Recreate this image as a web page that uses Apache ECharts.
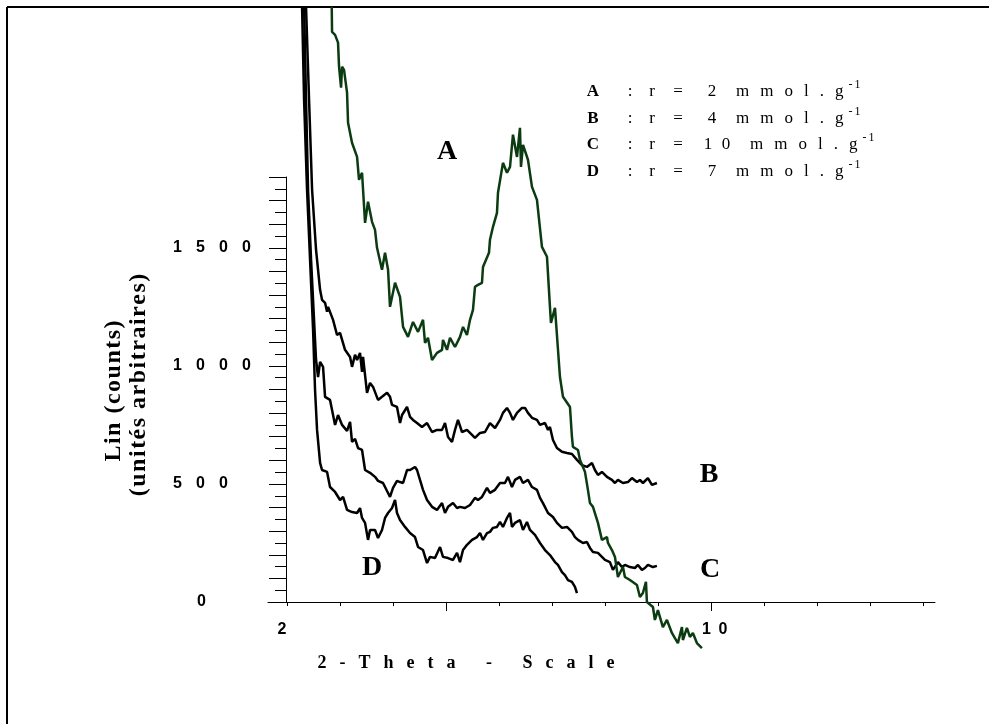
<!DOCTYPE html>
<html><head><meta charset="utf-8">
<script src="https://cdn.jsdelivr.net/npm/echarts@6/dist/echarts.min.js"></script>
<style>html,body{margin:0;padding:0;background:#fff}#c{width:989px;height:724px}</style>
</head><body><div id="c"></div>
<script>
// ---- data (2-theta in degrees, intensity in counts) ----
const curveA = [[2.843,2521],[2.849,2415],[2.906,2402],[2.962,2369],[2.981,2267],[3.019,2178],[3.038,2267],[3.075,2254],[3.132,2157],[3.151,2030],[3.226,1945],[3.321,1885],[3.358,1788],[3.415,1818],[3.472,1606],[3.528,1695],[3.604,1610],[3.660,1576],[3.698,1500],[3.792,1407],[3.849,1479],[3.906,1407],[3.943,1250],[4.038,1352],[4.132,1292],[4.189,1165],[4.283,1123],[4.377,1186],[4.472,1144],[4.566,1195],[4.604,1097],[4.660,1119],[4.736,1025],[4.830,1055],[4.925,1068],[4.943,1110],[5.019,1068],[5.075,1119],[5.170,1080],[5.264,1123],[5.321,1165],[5.396,1131],[5.453,1195],[5.509,1237],[5.547,1335],[5.604,1343],[5.679,1352],[5.698,1419],[5.811,1479],[5.830,1534],[5.887,1589],[5.962,1648],[5.981,1733],[6.075,1860],[6.151,1818],[6.208,1843],[6.264,1979],[6.340,1885],[6.396,2008],[6.415,1843],[6.453,1936],[6.547,1873],[6.623,1758],[6.717,1703],[6.811,1504],[6.906,1462],[6.962,1250],[6.981,1182],[7.057,1246],[7.151,953],[7.208,869],[7.340,826],[7.377,699],[7.396,657],[7.491,644],[7.528,602],[7.585,572],[7.623,551],[7.679,475],[7.717,419],[7.774,403],[7.868,335],[7.943,263],[8.038,275],[8.057,250],[8.132,220],[8.189,191],[8.245,106],[8.340,148],[8.377,106],[8.472,93],[8.604,72],[8.660,21],[8.717,38],[8.774,85],[8.792,0],[8.906,-21],[8.943,-76],[9.000,-34],[9.094,-106],[9.170,-76],[9.264,-131],[9.321,-153],[9.377,-174],[9.453,-106],[9.472,-161],[9.547,-110],[9.604,-148],[9.660,-131],[9.736,-174],[9.830,-195]];
const curveB = [[2.358,2521],[2.415,2127],[2.472,1746],[2.547,1491],[2.623,1322],[2.660,1280],[2.717,1267],[2.755,1229],[2.774,1250],[2.868,1195],[2.943,1131],[3.000,1140],[3.094,1068],[3.189,1038],[3.226,996],[3.283,1047],[3.321,1025],[3.377,1055],[3.415,975],[3.434,1038],[3.509,886],[3.566,928],[3.623,911],[3.717,856],[3.792,869],[3.887,886],[3.943,869],[3.981,835],[4.075,826],[4.132,758],[4.170,792],[4.264,826],[4.321,784],[4.377,771],[4.453,758],[4.547,741],[4.642,758],[4.736,720],[4.830,729],[4.925,729],[4.981,758],[5.038,699],[5.113,678],[5.170,729],[5.226,771],[5.302,720],[5.396,729],[5.491,708],[5.547,695],[5.642,716],[5.736,720],[5.830,758],[5.925,737],[6.019,771],[6.075,801],[6.151,822],[6.208,801],[6.264,771],[6.340,801],[6.434,822],[6.491,822],[6.547,801],[6.623,780],[6.717,771],[6.774,750],[6.868,758],[6.925,729],[6.962,741],[7.019,686],[7.094,652],[7.189,636],[7.283,631],[7.377,627],[7.472,602],[7.566,580],[7.660,572],[7.755,589],[7.811,559],[7.868,538],[7.943,551],[8.038,530],[8.132,517],[8.189,504],[8.245,517],[8.340,504],[8.434,508],[8.509,525],[8.604,508],[8.660,517],[8.717,504],[8.811,525],[8.887,496],[8.981,504]];
const curveC = [[2.321,2521],[2.358,2127],[2.396,1746],[2.453,1449],[2.509,1195],[2.547,1025],[2.585,953],[2.623,1017],[2.679,996],[2.717,869],[2.811,856],[2.868,792],[2.906,750],[2.962,792],[3.038,750],[3.132,725],[3.189,763],[3.226,678],[3.283,691],[3.340,652],[3.415,644],[3.472,559],[3.566,547],[3.660,530],[3.717,513],[3.811,504],[3.887,470],[3.943,445],[4.000,483],[4.075,513],[4.132,508],[4.189,504],[4.264,559],[4.321,559],[4.415,572],[4.453,559],[4.509,517],[4.566,475],[4.642,432],[4.736,403],[4.830,390],[4.925,419],[4.981,377],[5.038,403],[5.132,419],[5.208,398],[5.264,403],[5.358,398],[5.453,411],[5.547,441],[5.604,432],[5.679,445],[5.774,483],[5.830,462],[5.925,475],[6.019,504],[6.113,504],[6.170,530],[6.245,487],[6.302,517],[6.396,530],[6.453,504],[6.547,517],[6.623,487],[6.717,475],[6.774,441],[6.830,419],[6.925,377],[7.019,360],[7.094,335],[7.189,314],[7.283,318],[7.377,297],[7.434,275],[7.491,263],[7.585,250],[7.660,254],[7.717,229],[7.774,212],[7.868,208],[7.943,191],[8.000,178],[8.094,169],[8.151,136],[8.245,169],[8.321,148],[8.377,157],[8.472,148],[8.566,144],[8.623,157],[8.698,136],[8.755,144],[8.811,157],[8.906,148],[8.981,153]];
const curveD = [[2.283,2521],[2.321,2127],[2.377,1746],[2.434,1449],[2.491,1152],[2.528,898],[2.566,729],[2.623,589],[2.660,559],[2.755,551],[2.811,487],[2.906,466],[3.000,432],[3.057,445],[3.132,390],[3.226,381],[3.321,377],[3.377,398],[3.415,356],[3.472,335],[3.528,263],[3.566,305],[3.660,305],[3.717,271],[3.792,305],[3.849,356],[3.906,377],[3.981,398],[4.038,432],[4.075,377],[4.132,347],[4.226,318],[4.321,292],[4.415,275],[4.472,233],[4.566,220],[4.642,165],[4.698,191],[4.792,186],[4.887,233],[4.943,191],[5.038,186],[5.132,178],[5.208,208],[5.264,169],[5.321,220],[5.396,242],[5.491,263],[5.585,275],[5.642,292],[5.698,263],[5.774,292],[5.830,297],[5.887,314],[5.962,318],[6.019,339],[6.075,318],[6.151,356],[6.208,377],[6.245,318],[6.302,335],[6.396,347],[6.453,305],[6.528,339],[6.585,305],[6.679,284],[6.774,250],[6.868,220],[6.962,199],[7.057,169],[7.113,157],[7.189,127],[7.245,114],[7.302,93],[7.377,85],[7.434,64],[7.472,38]];

const xTickValues = [2,3,4,5,6,7,8,9,10,11,12,13,14];
const xMajorTickValues = [5,10];
const xLabelValues = [2,10];
const yLabelValues = [0,500,1000,1500];
const legendNames = ['A','B','C','D'];
const legendRatios = ['2','4','10','7'];
const legendUnit = 'mmol.g';
const legendSup = '-1';
const xTitle = '2-Theta - Scale';
const yTitle1 = 'Lin (counts)';
const yTitle2 = '(unités arbitraires)';

// ---- helpers ----
const mctx = document.createElement('canvas').getContext('2d');
function measure(str, font) {
  mctx.font = font;
  return Array.from(str).map(ch => mctx.measureText(ch).width);
}
function spaced(str, x, y, font, spacing, center) {
  const ws = measure(str, font);
  const total = ws.reduce((a,b)=>a+b,0) + spacing*(ws.length-1);
  let cx = center ? x - total/2 : x;
  const els = [];
  Array.from(str).forEach((ch,i) => {
    if (ch !== ' ') els.push({type:'text', x:cx, y:y, silent:true,
      style:{text:ch, font:font, fill:'#000', textAlign:'left', textVerticalAlign:'middle'}});
    cx += ws[i] + spacing;
  });
  return {els, end: cx - spacing};
}
function spacedVertical(str, cx, cy, font, spacing) {
  const r = spaced(str, 0, 0, font, spacing, true);
  return {type:'group', x:cx, y:cy, rotation:Math.PI/2, silent:true, children:r.els};
}

const serif = '"Liberation Serif", "Times New Roman", serif';
const sans = '"Liberation Sans", Arial, sans-serif';
const graphics = [];
// frame
graphics.push({type:'line', shape:{x1:7,y1:7,x2:989,y2:7}, style:{stroke:'#000', lineWidth:2}, silent:true});
graphics.push({type:'line', shape:{x1:7,y1:7,x2:7,y2:724}, style:{stroke:'#000', lineWidth:2}, silent:true});
// legend
legendNames.forEach((n,i) => {
  const y = 92 + i*26.5;
  const f1 = 'bold 17px ' + serif;
  const f2 = '17px ' + serif;
  graphics.push({type:'text', x:593, y:y, silent:true, style:{text:n, font:f1, fill:'#000', textAlign:'center', textVerticalAlign:'middle'}});
  [[':',630],['r',652],['=',678]].forEach(([t,x]) => graphics.push({type:'text', x:x, y:y, silent:true, style:{text:t, font:f2, fill:'#000', textAlign:'center', textVerticalAlign:'middle'}}));
  let lastX = 0;
  Array.from(legendRatios[i]).forEach((d,k) => {
    lastX = 712 + k*18 - (legendRatios[i].length-1)*4;
    graphics.push({type:'text', x:lastX, y:y, silent:true, style:{text:d, font:f2, fill:'#000', textAlign:'center', textVerticalAlign:'middle'}});
  });
  const u = spaced(legendUnit, lastX + 24, y, f2, 11, false);
  graphics.push(...u.els);
  const s = spaced(legendSup, u.end + 5, y - 7, '12px ' + serif, 2, false);
  graphics.push(...s.els);
});
// curve labels
[['A',447,152],['B',709,475],['C',710,570],['D',372,568]].forEach(([t,x,y]) => {
  graphics.push({type:'text', x:x, y:y, silent:true, style:{text:t, font:'bold 28px ' + serif, fill:'#000', textAlign:'center', textVerticalAlign:'middle'}});
});
// axis titles
graphics.push(...spaced(xTitle, 466, 663, 'bold 18px ' + serif, 13, true).els);
graphics.push(spacedVertical(yTitle1, 114, 391, 'bold 24px ' + serif, 1.5));
graphics.push(spacedVertical(yTitle2, 139, 385, 'bold 24px ' + serif, 1.5));

const numRich = {
  d:{width:23, fontSize:16, fontWeight:'bold', fontFamily:sans, color:'#000'},
  x:{width:24, fontSize:16, fontWeight:'bold', fontFamily:sans, color:'#000'},
  e:{fontSize:16, fontWeight:'bold', fontFamily:sans, color:'#000'},
  p:{width:24, fontSize:16, fontFamily:sans},
  q:{width:10, fontSize:16, fontFamily:sans}
};
function yDigits(v) {
  const s = String(v);
  return (v === 0 ? '{p| }' : '') + Array.from(s).map((c,i) => (i < s.length-1 ? '{d|' : '{e|') + c + '}').join('');
}
function xDigits(v) {
  const s = String(v);
  if (s.length === 1) return '{e|' + s + '}{q| }';
  return Array.from(s).map((c,i) => (i < s.length-1 ? '{x|' : '{e|') + c + '}').join('');
}

const chart = echarts.init(document.getElementById('c'), null, {renderer:'canvas'});
chart.setOption({
  animation:false,
  backgroundColor:'#fff',
  grid:{left:268, right:54, top:177, bottom:122, containLabel:false},
  xAxis:[{type:'value', min:1.64, max:14.23,
    axisLine:{show:true, lineStyle:{color:'#000', width:1}},
    axisTick:{show:true, customValues:xTickValues, length:4, lineStyle:{color:'#000'}},
    axisLabel:{show:true, customValues:xLabelValues, margin:20, rich:numRich, formatter:xDigits},
    splitLine:{show:false}},
   {type:'value', min:1.64, max:14.23, position:'bottom',
    axisLine:{show:false},
    axisTick:{show:true, customValues:xMajorTickValues, length:9, lineStyle:{color:'#000'}},
    axisLabel:{show:false}, splitLine:{show:false}}],
  yAxis:{type:'value', min:0, max:1800, interval:100, offset:-18,
    axisLine:{show:true, lineStyle:{color:'#000', width:1}},
    axisTick:{show:true, length:17, lineStyle:{color:'#000'}},
    minorTick:{show:true, splitNumber:2, length:11, lineStyle:{color:'#000'}},
    axisLabel:{show:true, customValues:yLabelValues, align:'left', margin:113, rich:numRich, formatter:yDigits},
    splitLine:{show:false}},
  series:[
    {name:'D', type:'line', data:curveD, showSymbol:false, clip:false, lineStyle:{color:'#000', width:2.5}},
    {name:'C', type:'line', data:curveC, showSymbol:false, clip:false, lineStyle:{color:'#000', width:2.5}},
    {name:'B', type:'line', data:curveB, showSymbol:false, clip:false, lineStyle:{color:'#000', width:2.5}},
    {name:'A', type:'line', data:curveA, showSymbol:false, clip:false, lineStyle:{color:'#0b3b10', width:2.5}}
  ],
  graphic:{elements:graphics}
});
</script></body></html>
